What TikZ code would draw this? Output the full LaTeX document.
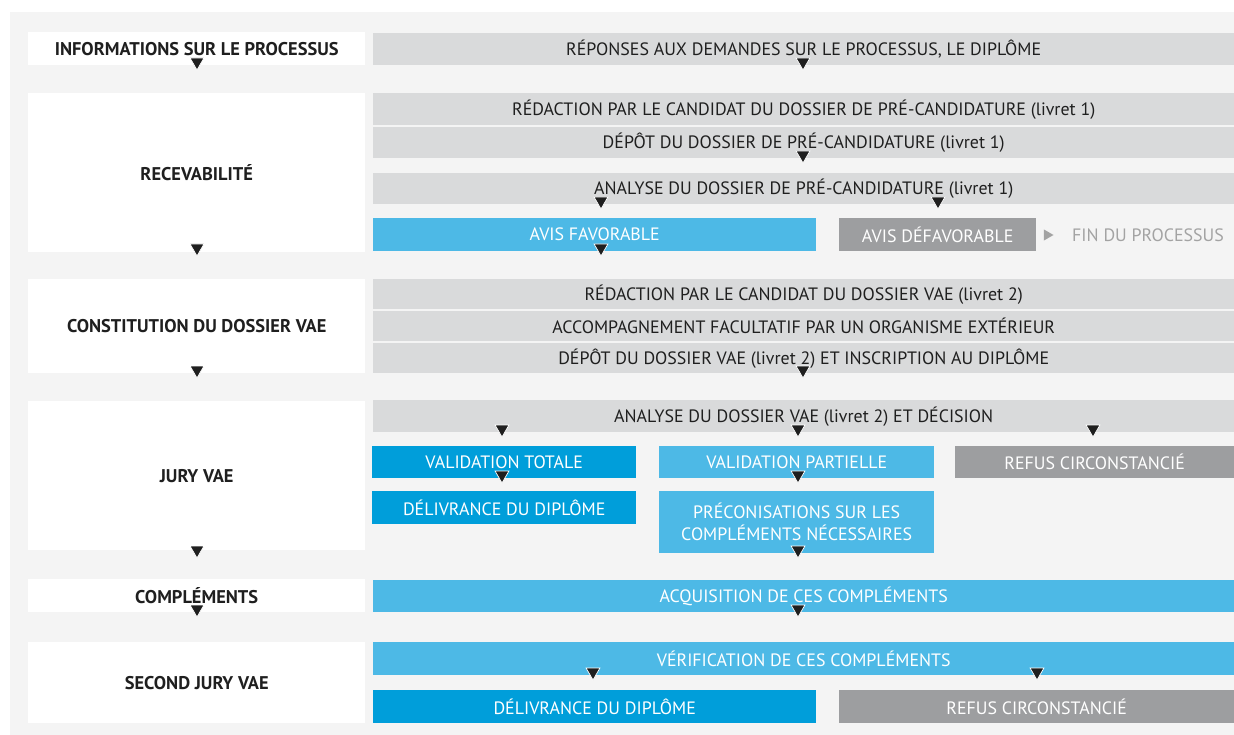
\documentclass[tikz,border=0pt]{standalone}
\usepackage{fontspec}
\setmainfont{PT Sans}
\usetikzlibrary{positioning,shapes.geometric}

\definecolor{fond}{HTML}{F4F4F4}
\definecolor{grisclair}{HTML}{D9DADB}
\definecolor{grisfonce}{HTML}{9D9EA0}
\definecolor{bleuclair}{HTML}{4DB9E6}
\definecolor{bleufonce}{HTML}{009EDA}
\definecolor{encre}{HTML}{1F1F1F}
\definecolor{grisfin}{HTML}{A3A3A3}

\tikzset{
  etape/.style={fill=white, anchor=north west, inner sep=0pt, minimum width=337pt,
    text=encre, font=\bfseries\fontsize{18.4}{21}\selectfont},
  tache/.style={fill=grisclair, anchor=north west, inner sep=0pt, minimum height=32pt,
    text=encre, font=\fontsize{17.9}{22}\selectfont},
  favorable/.style={tache, fill=bleuclair, text=white},
  diplome/.style={tache, fill=bleufonce, text=white},
  refus/.style={tache, fill=grisfonce, text=white},
  tri/.style={regular polygon, regular polygon sides=3, shape border rotate=180,
    minimum size=16pt, inner sep=0pt, fill=encre, draw=white, line width=0.7pt},
}

\begin{document}
\begin{tikzpicture}[x=1pt,y=-1pt]
    \useasboundingbox (0,0) rectangle (1234,735);
    \fill[fond] (10,12) rectangle (1234,735);

    % colonne des etapes
    \node[etape, minimum height=33pt] (info) at (28,32) {INFORMATIONS SUR LE PROCESSUS};
    \node[etape, minimum height=159pt] (recev) at (28,93) {RECEVABILITÉ};
    \node[etape, minimum height=94pt] (constit) at (28,279) {CONSTITUTION DU DOSSIER VAE};
    \node[etape, minimum height=149pt] (jury) at (28,401) {JURY VAE};
    \node[etape, minimum height=33pt] (compl) at (28,579) {COMPLÉMENTS};
    \node[etape, minimum height=81pt] (second) at (28,642) {SECOND JURY VAE};

    \node[tri] (f1) at (197,62) {};
    \node[tri] (f2) at (197,248) {};
    \node[tri] (f3) at (197,370) {};
    \node[tri] (f4) at (197,550) {};
    \node[tri] (f5) at (197,609) {};

    % informations
    \node[tache, minimum width=861pt] (reponses) at (373,33) {RÉPONSES AUX DEMANDES SUR LE PROCESSUS, LE DIPLÔME};
    \node[tri] (r1) at (803,62) {};

    % recevabilite
    \node[tache, minimum width=861pt] (redac1) at (373,93) {RÉDACTION PAR LE CANDIDAT DU DOSSIER DE PRÉ-CANDIDATURE (livret 1)};
    \node[tache, minimum width=861pt, minimum height=31pt] (depot1) at (373,127) {DÉPÔT DU DOSSIER DE PRÉ-CANDIDATURE (livret 1)};
    \node[tri] (r2) at (803,155) {};
    \node[tache, minimum width=861pt, minimum height=31pt] (analyse1) at (373,173) {ANALYSE DU DOSSIER DE PRÉ-CANDIDATURE (livret 1)};
    \node[tri] (r3) at (601,201) {};
    \node[tri] (r4) at (938,201) {};
    \node[favorable, minimum width=443pt, minimum height=33pt] (fav) at (373,218) {AVIS FAVORABLE};
    \node[refus, minimum width=197pt, minimum height=33pt] (defav) at (839,218) {AVIS DÉFAVORABLE};
    \node[tri] (r5) at (601,248) {};
    \node[tri, fill=grisfin, draw=none, minimum size=13pt, shape border rotate=-90] (r6) at (1047,235) {};
    \node[text=grisfin, font=\fontsize{17.9}{22}\selectfont] (fin) at (1148,235) {FIN DU PROCESSUS};

    % constitution du dossier
    \node[tache, minimum width=861pt, minimum height=30pt] (redac2) at (373,279) {RÉDACTION PAR LE CANDIDAT DU DOSSIER VAE (livret 2)};
    \node[tache, minimum width=861pt, minimum height=30pt] (accomp) at (373,311) {ACCOMPAGNEMENT FACULTATIF PAR UN ORGANISME EXTÉRIEUR};
    \node[tache, minimum width=861pt, minimum height=30pt] (depot2) at (373,343) {DÉPÔT DU DOSSIER VAE (livret 2) ET INSCRIPTION AU DIPLÔME};
    \node[tri] (r7) at (803,370) {};

    % jury
    \node[tache, minimum width=861pt] (analyse2) at (373,400) {ANALYSE DU DOSSIER VAE (livret 2) ET DÉCISION};
    \node[tri] (r8) at (502,429) {};
    \node[tri] (r9) at (798,429) {};
    \node[tri] (r10) at (1093,429) {};
    \node[diplome, minimum width=264pt] (totale) at (372,446) {VALIDATION TOTALE};
    \node[favorable, minimum width=275pt] (partielle) at (659,446) {VALIDATION PARTIELLE};
    \node[refus, minimum width=279pt] (refus1) at (955,446) {REFUS CIRCONSTANCIÉ};
    \node[tri] (r11) at (502,475) {};
    \node[tri] (r12) at (798,475) {};
    \node[diplome, minimum width=264pt, minimum height=33pt] (deliv1) at (372,491) {DÉLIVRANCE DU DIPLÔME};
    \node[favorable, minimum width=275pt, minimum height=62pt, align=center] (precon) at (659,491) {PRÉCONISATIONS SUR LES\\COMPLÉMENTS NÉCESSAIRES};
    \node[tri] (r13) at (798,550) {};

    % complements
    \node[favorable, minimum width=861pt] (acquis) at (373,580) {ACQUISITION DE CES COMPLÉMENTS};
    \node[tri] (r14) at (798,609) {};

    % second jury
    \node[favorable, minimum width=861pt, minimum height=33pt] (verif) at (373,642) {VÉRIFICATION DE CES COMPLÉMENTS};
    \node[tri] (r15) at (593,672) {};
    \node[tri] (r16) at (1037,672) {};
    \node[diplome, minimum width=443pt, minimum height=33pt] (deliv2) at (373,690) {DÉLIVRANCE DU DIPLÔME};
    \node[refus, minimum width=395pt, minimum height=33pt] (refus2) at (839,690) {REFUS CIRCONSTANCIÉ};
\end{tikzpicture}
\end{document}
